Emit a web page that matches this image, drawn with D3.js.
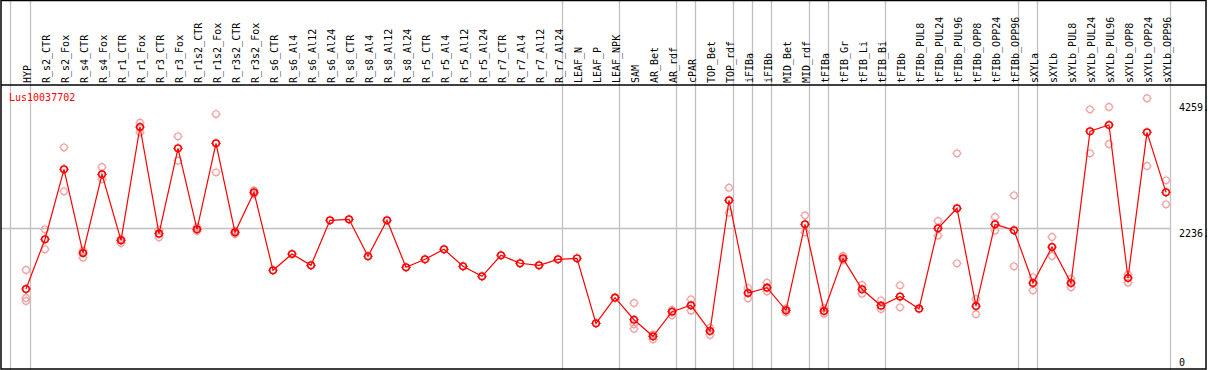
<!DOCTYPE html>
<html>
<head>
<meta charset="utf-8">
<script src="https://cdn.jsdelivr.net/npm/d3@7"></script>
<style>
  body { margin: 0; background: #fff; }
  text { font-family: "DejaVu Sans Mono", monospace; font-size: 10px; }
</style>
</head>
<body>
<svg id="chart" width="1209" height="370"></svg>
<script>

var geneName = "Lus10037702";

var samples = ["HYP","R_s2_CTR","R_s2_Fox","R_s4_CTR","R_s4_Fox","R_r1_CTR","R_r1_Fox","R_r3_CTR","R_r3_Fox",
  "R_r1s2_CTR","R_r1s2_Fox","R_r3s2_CTR","R_r3s2_Fox","R_s6_CTR","R_s6_Al4","R_s6_Al12","R_s6_Al24",
  "R_s8_CTR","R_s8_Al4","R_s8_Al12","R_s8_Al24","R_r5_CTR","R_r5_Al4","R_r5_Al12","R_r5_Al24",
  "R_r7_CTR","R_r7_Al4","R_r7_Al12","R_r7_Al24","LEAF_N","LEAF_P","LEAF_NPK","SAM","AR_Bet","AR_rdf",
  "cPAR","TOP_Bet","TOP_rdf","iFIBa","iFIBb","MID_Bet","MID_rdf","tFIBa","tFIB_Gr","tFIB_Li","tFIB_Bi",
  "tFIBb","tFIBb_PUL8","tFIBb_PUL24","tFIBb_PUL96","tFIBb_OPP8","tFIBb_OPP24","tFIBb_OPP96",
  "sXYLa","sXYLb","sXYLb_PUL8","sXYLb_PUL24","sXYLb_PUL96","sXYLb_OPP8","sXYLb_OPP24","sXYLb_OPP96"];

// mean expression per sample
var means = [1257,2059,3187,1838,3106,2042,3869,2149,3525,
  2220,3606,2171,2816,1559,1822,1639,2365,
  2381,1785,2365,1607,1736,1897,1623,1462,
  1801,1672,1639,1736,1752,704,1117,762,495,891,
  995,580,2687,1193,1278,914,2300,903,1752,1253,988,
  1136,940,2236,2558,983,2300,2204,
  1354,1934,1354,3800,3901,1435,3783,2816];

// replicate values per sample (empty where they sit under the mean)
var replicates = [[1564,1112,1064],[2220,1897],[3542,2832],[1875,1762],[3224,3026],[2063,1999],[3938,3783],[2208,2091],[3719,3326],
  [2257,2192],[4078,3139],[2192,2144],[2845,2789],[],[],[],[],
  [],[],[],[],[],[],[],[],
  [],[],[],[],[],[],[],[1032,688,617],[527,447],[919,833],
  [1091,908],[634,516],[2890,2487],[1273,1107],[1359,1220],[946,882],[2445,2171],[951,859],[1789,1725],[1322,1182],[1075,935],
  [1317,962],[],[2354,2117],[3445,1672],[1096,850],[2418,2197],[2768,1623],
  [1446,1236],[2096,1789],[1423,1285],[4154,3445],[4191,3595],[1494,1359],[4332,3240],[3010,2623]];

// groups end after these sample indices
var groupEnds = [0,28,31,34,35,37,38,39,41,42,45,52,53,60];

var yTicks = [4259, 2236, 0];

var svg = d3.select("#chart");
var W = 1209, H = 370;
var headerY = 85;

var xScale = d3.scalePoint()
    .domain(samples)
    .range([26, 1166]);

var yScale = d3.scaleLinear()
    .domain([0, 4259])
    .range([367, 102.8]);

// grey separators
var sepX = [10.5].concat(groupEnds.map(function(i){ return xScale(samples[i]) + 4.5; }));
svg.selectAll("line.sep")
    .data(sepX)
    .enter()
    .append("line")
      .attr("class","sep")
      .attr("x1", function(d){ return d; })
      .attr("x2", function(d){ return d; })
      .attr("y1", 0)
      .attr("y2", H)
      .attr("stroke", "#c0c0c0")
      .attr("stroke-width", 1.3);

// horizontal grid at middle tick
svg.append("line")
    .attr("x1", 1).attr("x2", sepX[sepX.length-1])
    .attr("y1", Math.round(yScale(2236)) + 0.5)
    .attr("y2", Math.round(yScale(2236)) + 0.5)
    .attr("stroke", "#c0c0c0")
    .attr("stroke-width", 1.3);

// frame
svg.append("rect")
    .attr("x", 1).attr("y", 0.5)
    .attr("width", 1205).attr("height", H - 1.5)
    .attr("fill", "none")
    .attr("stroke", "#000")
    .attr("stroke-width", 1.5);
svg.append("line")
    .attr("x1", 1).attr("x2", 1206)
    .attr("y1", headerY).attr("y2", headerY)
    .attr("stroke", "#000")
    .attr("stroke-width", 1.5);

// sample labels
svg.append("g").selectAll("text")
    .data(samples)
    .enter()
    .append("text")
      .attr("transform", function(d){ return "translate(" + (xScale(d) + 4.5) + "," + (headerY - 2) + ") rotate(-90)"; })
      .attr("fill", "#000")
      .text(function(d){ return d; });

// y tick labels
svg.append("g").selectAll("text")
    .data(yTicks)
    .enter()
    .append("text")
      .attr("x", 1179)
      .attr("y", function(d){ return Math.min(yScale(d) + 8.5, 365.5); })
      .attr("fill", "#000")
      .text(function(d){ return d === 0 ? "0" : d + "."; });

svg.append("text")
    .attr("x", 9)
    .attr("y", 100.5)
    .attr("fill", "#ff0000")
    .text(geneName);

function marker(g, color, sw){
    g.append("circle")
      .attr("r", 3.3)
      .attr("fill", "none")
      .attr("stroke", color)
      .attr("stroke-width", sw);
    g.append("path")
      .attr("d", "M0,-4.8V-3.6M0,3.6V4.8M-4.8,0H-3.6M3.6,0H4.8")
      .attr("stroke", color)
      .attr("stroke-width", 1);
}

// replicate points
var repData = [];
replicates.forEach(function(r, i){
    r.forEach(function(v){ repData.push({s: samples[i], v: v}); });
});
svg.append("g").selectAll("g")
    .data(repData)
    .enter()
    .append("g")
      .attr("transform", function(d){ return "translate(" + xScale(d.s) + "," + yScale(d.v) + ")"; })
      .each(function(){ marker(d3.select(this), "#f0a0a0", 1.2); });

// mean line
var line = d3.line()
    .x(function(d, i){ return xScale(samples[i]); })
    .y(function(d){ return yScale(d); });
svg.append("path")
    .datum(means)
    .attr("d", line)
    .attr("fill", "none")
    .attr("stroke", "#ff0000")
    .attr("stroke-width", 1.2);

svg.append("g").selectAll("g")
    .data(means)
    .enter()
    .append("g")
      .attr("transform", function(d, i){ return "translate(" + xScale(samples[i]) + "," + yScale(d) + ")"; })
      .each(function(){ marker(d3.select(this), "#ff0000", 1.6); });

</script>
</body>
</html>
